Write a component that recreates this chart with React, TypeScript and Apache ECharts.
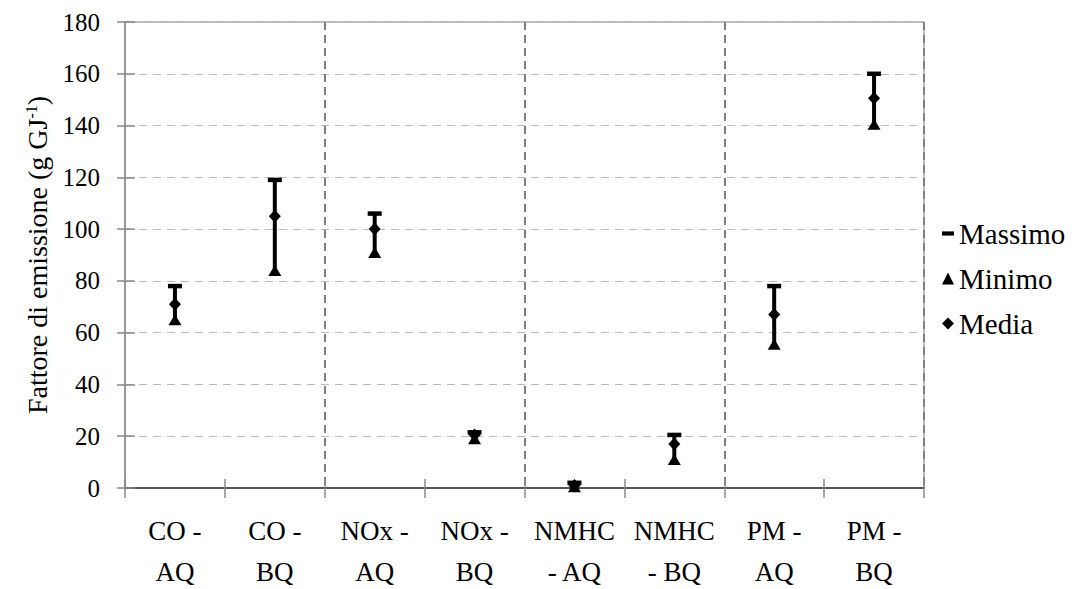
import React, { useEffect, useRef } from "react";
import * as echarts from "echarts";

const categories = ["CO -\nAQ", "CO -\nBQ", "NOx -\nAQ", "NOx -\nBQ", "NMHC\n- AQ", "NMHC\n- BQ", "PM -\nAQ", "PM -\nBQ"];
const massimo = [78, 119, 106, 21.5, 2, 20.5, 78, 160];
const minimo = [65, 84, 91, 19, 0.5, 11, 55.5, 140.5];
const media = [71, 105, 100, 20.5, 1, 17, 67, 150.5];
const yTicks = { min: 0, max: 180, interval: 20 };

const FONT = "Liberation Serif";

export default function App() {
  const ref = useRef<HTMLDivElement>(null);
  useEffect(() => {
    if (!ref.current) return;
    const chart = echarts.init(ref.current, null, { renderer: "svg" });
    const rangeData = categories.map((_, i) => [i, minimo[i], massimo[i]]);
    chart.setOption({
      animation: false,
      backgroundColor: "#fff",
      textStyle: { fontFamily: FONT, color: "#000" },
      grid: {
        left: 125,
        right: 154,
        top: 22,
        bottom: 101,
        show: true,
        borderColor: "#777",
        borderWidth: 1,
        containLabel: false,
        outerBoundsMode: "none",
      },
      legend: {
        orient: "vertical",
        left: 937,
        top: 214,
        itemGap: 16,
        itemWidth: 12,
        itemHeight: 12,
        textStyle: { fontFamily: FONT, fontSize: 29, color: "#000" },
        data: [
          { name: "Massimo", icon: "path://M0,0h10v3.5h-10z" },
          { name: "Minimo", icon: "triangle" },
          { name: "Media", icon: "diamond" },
        ],
      },
      xAxis: [
        {
          type: "category",
          data: categories,
          boundaryGap: true,
          axisLine: { show: true, lineStyle: { color: "#555", width: 2 } },
          axisTick: { show: true, inside: false, length: 10, lineStyle: { color: "#888", width: 1.5 } },
          axisLabel: {
            interval: 0,
            margin: 22,
            fontFamily: FONT,
            fontSize: 27,
            color: "#000",
            lineHeight: 41,
          },
          splitLine: {
            show: true,
            interval: (index: number) => index === 2 || index === 4 || index === 6,
            lineStyle: { color: "#808080", width: 2, type: [8, 5] },
          },
        },
        {
          type: "category",
          data: categories,
          position: "bottom",
          boundaryGap: true,
          axisLine: { show: false },
          axisTick: { show: true, inside: true, length: 9, lineStyle: { color: "#888", width: 1.5 } },
          axisLabel: { show: false },
          splitLine: { show: false },
        },
      ],
      yAxis: [
        {
          type: "value",
          min: yTicks.min,
          max: yTicks.max,
          interval: yTicks.interval,
          name: "Fattore di emissione (g GJ{sup|-1})",
          nameLocation: "middle",
          nameGap: 70,
          nameTextStyle: {
            fontFamily: FONT,
            fontSize: 28,
            color: "#000",
            rich: {
              sup: { fontFamily: FONT, fontSize: 16, verticalAlign: "top", lineHeight: 16, color: "#000" },
            },
          },
          axisLine: { show: true, lineStyle: { color: "#999", width: 2 } },
          axisTick: { show: true, inside: false, length: 8, lineStyle: { color: "#888", width: 1.5 } },
          axisLabel: { margin: 25, fontFamily: FONT, fontSize: 25, color: "#000" },
          splitLine: { show: true, lineStyle: { color: "#bbb", width: 1.2, type: [8, 6] } },
        },
        {
          type: "value",
          min: yTicks.min,
          max: yTicks.max,
          interval: yTicks.interval,
          position: "left",
          axisLine: { show: false },
          axisTick: { show: true, inside: true, length: 10, lineStyle: { color: "#888", width: 1.5 } },
          axisLabel: { show: false },
          splitLine: { show: false },
        },
      ],
      series: [
        {
          type: "custom",
          name: "range",
          data: rangeData,
          encode: { x: 0, y: [1, 2] },
          z: 1,
          silent: true,
          renderItem: (params: any, api: any) => {
            const x = api.value(0);
            const p1 = api.coord([x, api.value(1)]);
            const p2 = api.coord([x, api.value(2)]);
            return {
              type: "line",
              shape: { x1: p1[0], y1: p1[1], x2: p2[0], y2: p2[1] },
              style: { stroke: "#000", lineWidth: 4 },
            };
          },
        },
        {
          type: "scatter",
          name: "Massimo",
          data: massimo,
          symbol: "rect",
          symbolSize: [14, 4.5],
          symbolKeepAspect: true,
          itemStyle: { color: "#000", opacity: 1 },
          z: 3,
        },
        {
          type: "scatter",
          name: "Minimo",
          data: minimo,
          symbol: "triangle",
          symbolSize: [13, 11],
          itemStyle: { color: "#000", opacity: 1 },
          z: 3,
        },
        {
          type: "scatter",
          name: "Media",
          data: media,
          symbol: "diamond",
          symbolSize: [12, 13],
          itemStyle: { color: "#000", opacity: 1 },
          z: 3,
        },
      ],
    });
    return () => chart.dispose();
  }, []);
  return (
    <div
      ref={ref}
      style={{ position: "absolute", left: 0, top: 0, width: 1078, height: 589 }}
    />
  );
}
